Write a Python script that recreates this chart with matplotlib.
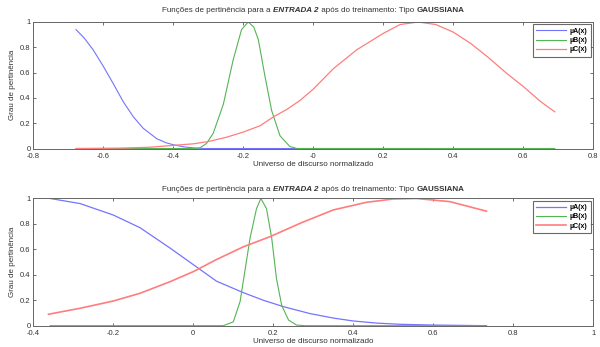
import numpy as np
import matplotlib
matplotlib.use("Agg")
import matplotlib.pyplot as plt

plt.rcParams['font.family'] = ['Liberation Sans', 'DejaVu Sans']

# ---- top panel ----
xa1 = [-0.678, -0.655, -0.629, -0.60, -0.571, -0.543, -0.514, -0.486, -0.447, -0.42, -0.40, -0.37, -0.343, -0.31, 0.0, 0.33]
ya1 = [0.94, 0.875, 0.78, 0.65, 0.51, 0.37, 0.25, 0.16, 0.077, 0.045, 0.03, 0.013, 0.005, 0.0, 0.0, 0.0]
xb1 = [-0.678, -0.34, -0.324, -0.305, -0.286, -0.257, -0.229, -0.205, -0.186, -0.17, -0.157, -0.138, -0.119, -0.095, -0.067, -0.047, 0.69]
yb1 = [0.0, 0.0, 0.005, 0.04, 0.12, 0.35, 0.70, 0.94, 1.0, 0.96, 0.86, 0.57, 0.30, 0.10, 0.016, 0.0, 0.0]
xc1 = [-0.678, -0.55, -0.467, -0.40, -0.343, -0.30, -0.247, -0.20, -0.152, -0.114, -0.075, -0.038, 0.0, 0.057, 0.124,
       0.20, 0.248, 0.30, 0.35, 0.40, 0.45, 0.50, 0.55, 0.60, 0.65, 0.69]
yc1 = [0.0, 0.003, 0.01, 0.025, 0.037, 0.055, 0.09, 0.13, 0.18, 0.25, 0.31, 0.38, 0.47, 0.63, 0.78,
       0.91, 0.98, 1.0, 0.98, 0.92, 0.83, 0.72, 0.60, 0.49, 0.37, 0.29]

# ---- bottom panel ----
xa2 = [-0.358, -0.283, -0.20, -0.133, -0.058, 0.0, 0.058, 0.125, 0.175, 0.225, 0.292, 0.35, 0.40, 0.46, 0.517, 0.60, 0.733]
ya2 = [1.0, 0.96, 0.87, 0.77, 0.61, 0.48, 0.35, 0.26, 0.20, 0.15, 0.095, 0.06, 0.037, 0.02, 0.011, 0.005, 0.0]
xb2 = [-0.358, 0.075, 0.10, 0.117, 0.129, 0.142, 0.158, 0.169, 0.183, 0.196, 0.208, 0.221, 0.238, 0.258, 0.28, 0.733]
yb2 = [0.0, 0.0, 0.03, 0.19, 0.43, 0.69, 0.92, 1.0, 0.92, 0.69, 0.37, 0.16, 0.045, 0.005, 0.0, 0.0]
xc2 = [-0.362, -0.283, -0.20, -0.133, -0.058, 0.0, 0.058, 0.125, 0.192, 0.267, 0.35, 0.433, 0.50, 0.558, 0.642, 0.733]
yc2 = [0.09, 0.137, 0.194, 0.255, 0.346, 0.425, 0.52, 0.62, 0.70, 0.805, 0.91, 0.97, 0.996, 1.0, 0.975, 0.90]

labels = ["µA(x)", "µB(x)", "µC(x)"]
cols = ['#7474ff', '#55b455', '#ff7d7d']


def title_parts(fig, ax, parts, y, fs=5.8):
    # mixed-style title centred above the axes
    r = fig.canvas.get_renderer()
    objs = [fig.text(0, y, s, fontsize=fs, fontweight=w, fontstyle=st, color='#333333', va='center')
            for s, w, st in parts]
    widths = [t.get_window_extent(r).width for t in objs]
    bb = ax.get_position()
    x = (bb.x0 + bb.x1) / 2 * fig.bbox.width - sum(widths) / 2
    for t, w in zip(objs, widths):
        t.set_x(x / fig.bbox.width)
        x += w


fig = plt.figure(figsize=(6, 3.47), dpi=100)
ax1 = fig.add_axes([0.0555, 0.572, 0.9333, 0.3646])
ax2 = fig.add_axes([0.0555, 0.0614, 0.9333, 0.3666])

panels = [
    (ax1, [(xa1, ya1), (xb1, yb1), (xc1, yc1)], (-0.8, 0.8), np.arange(-0.8, 0.81, 0.2), [0.8, 0.8, 0.9]),
    (ax2, [(xa2, ya2), (xb2, yb2), (xc2, yc2)], (-0.4, 1.0), np.arange(-0.4, 1.01, 0.2), [0.9, 0.8, 1.2]),
]

for ax, series, xl, xt, lws in panels:
    for (x, y), c, lab, lw in zip(series, cols, labels, lws):
        ax.plot(x, y, color=c, lw=lw, label=lab, solid_joinstyle='round')
    ax.set_xlim(*xl)
    ax.set_ylim(0, 1)
    ax.set_xticks(xt)
    ax.set_xticklabels(['%g' % round(v, 1) for v in xt])
    ax.set_yticks([0, 0.2, 0.4, 0.6, 0.8, 1])
    ax.set_yticklabels(['0', '0.2', '0.4', '0.6', '0.8', '1'])
    ax.tick_params(direction='in', top=True, right=True, labelsize=5.5, length=2.5,
                   width=0.5, colors='#333333')
    ax.tick_params(axis='x', pad=3)
    ax.tick_params(axis='y', pad=2)
    for sp in ax.spines.values():
        sp.set_linewidth(0.7)
        sp.set_color('#666666')
    ax.set_xlabel("Universo de discurso normalizado", fontsize=5.8, labelpad=1, color='#333333')
    ax.set_ylabel("Grau de pertinência", fontsize=5.8, labelpad=3, color='#333333')
    leg = ax.legend(loc='upper right', fontsize=5, frameon=True, fancybox=False,
                    handlelength=4.3, borderpad=0.45, labelspacing=0.35,
                    borderaxespad=0.35, handletextpad=0.6)
    leg.get_frame().set_edgecolor('#444444')
    leg.get_frame().set_linewidth(0.8)
    for t in leg.get_texts():
        t.set_fontweight('bold')

parts = [("Funções de pertinência para a ", 'normal', 'normal'),
         ("ENTRADA 2", 'bold', 'italic'),
         (" após do treinamento: Tipo ", 'normal', 'normal'),
         ("GAUSSIANA", 'bold', 'normal')]
title_parts(fig, ax1, parts, 1 - 10 / 347)
title_parts(fig, ax2, parts, 1 - 190 / 347)

fig.savefig("out.png", dpi=100)
